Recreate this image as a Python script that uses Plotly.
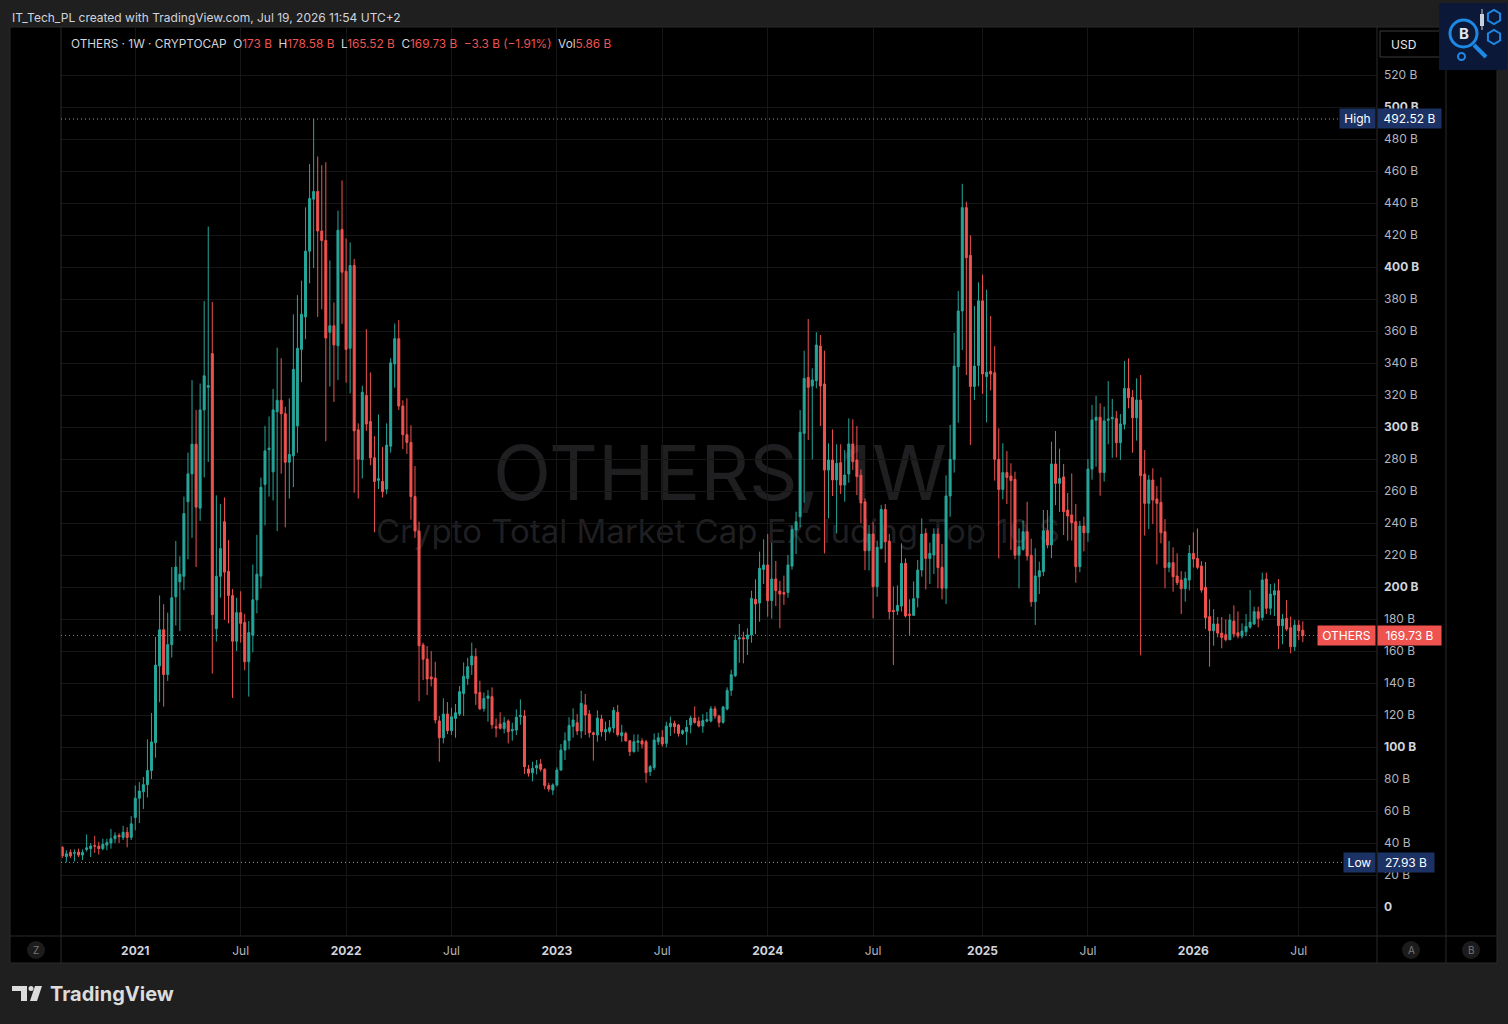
import pandas as pd
import plotly.graph_objects as go

# weekly OTHERS market cap, billions USD (one candle per week starting Monday)
first_week = "2020-08-31"

opens = [
    37.3, 31.5, 34.1, 33.6, 34.4, 32.5, 36.0, 36.5, 38.4, 38.1,
    36.5, 38.7, 40.0, 42.7, 44.8, 43.5, 46.7, 43.5, 56.0, 68.0,
    72.0, 76.5, 85.3, 102.7, 150.7, 173.3, 145.3, 164.0, 193.9, 203.2,
    206.7, 253.3, 270.7, 289.3, 249.3, 310.7, 324.8, 345.9, 173.9, 206.7,
    240.8, 209.9, 194.7, 166.1, 184.0, 177.9, 153.3, 169.9, 192.0, 206.8,
    264.1, 285.8, 272.0, 309.5, 316.7, 308.3, 278.0, 282.0, 300.7, 348.5,
    368.8, 409.9, 442.4, 447.2, 422.5, 416.6, 359.2, 363.3, 350.8, 423.5,
    397.4, 349.2, 401.0, 298.3, 279.6, 319.8, 303.5, 280.8, 266.7, 266.0,
    261.2, 288.0, 339.4, 355.2, 313.1, 295.2, 290.4, 256.5, 235.0, 163.8,
    155.0, 143.8, 143.1, 116.3, 105.8, 120.6, 110.2, 117.9, 120.6, 133.5,
    142.9, 151.3, 156.5, 134.1, 124.1, 130.4, 131.5, 112.7, 114.4, 111.5,
    116.3, 110.2, 110.6, 119.0, 119.4, 86.3, 83.9, 86.9, 89.4, 86.1,
    75.9, 73.1, 76.3, 85.6, 98.1, 104.0, 112.9, 115.2, 110.0, 126.3,
    120.6, 108.9, 107.5, 117.5, 109.4, 109.9, 111.9, 121.7, 107.1, 108.5,
    103.9, 97.1, 102.9, 103.8, 103.3, 84.6, 87.1, 103.3, 106.1, 102.3,
    112.7, 114.8, 113.8, 108.5, 109.6, 113.8, 118.1, 116.2, 113.1, 116.2,
    116.3, 123.9, 119.4, 115.4, 123.8, 135.4, 144.6, 167.5, 168.3, 167.5,
    170.0, 192.3, 190.0, 211.0, 213.8, 191.5, 205.0, 197.5, 196.5, 196.5,
    213.1, 235.6, 243.9, 296.0, 331.0, 325.6, 328.9, 350.6, 326.9, 273.1,
    279.4, 266.9, 277.7, 263.7, 270.6, 289.4, 279.4, 269.8, 253.3, 222.7,
    233.1, 200.2, 224.2, 248.5, 228.7, 185.4, 185.0, 188.1, 214.8, 183.1,
    182.3, 193.3, 210.6, 233.5, 217.9, 220.0, 233.1, 212.3, 199.2, 256.9,
    279.8, 337.7, 372.5, 437.1, 407.3, 325.4, 338.5, 378.9, 331.5, 334.8,
    333.9, 279.8, 261.0, 271.5, 269.4, 267.3, 219.9, 223.5, 234.6, 219.9,
    190.8, 206.5, 209.6, 235.2, 226.3, 276.9, 264.8, 268.8, 248.1, 245.0,
    240.8, 212.7, 238.1, 233.9, 273.7, 304.2, 306.1, 271.5, 304.2, 305.2,
    305.4, 290.2, 301.7, 324.1, 318.5, 305.8, 316.9, 270.6, 252.3, 266.9,
    255.0, 252.9, 234.6, 212.3, 215.2, 206.9, 204.4, 199.0, 204.4, 221.0,
    217.9, 213.1, 199.8, 181.5, 172.7, 176.9, 171.2, 170.2, 167.1, 178.7,
    171.4, 169.4, 172.1, 175.0, 176.9, 184.6, 181.0, 205.0, 186.7, 195.0,
    197.7, 175.8, 180.4, 174.6, 162.7, 176.2, 173.0,
]
highs = [
    38.1, 35.5, 36.0, 36.0, 36.5, 36.0, 45.3, 40.0, 44.5, 40.8,
    42.7, 42.7, 48.8, 46.7, 46.1, 50.7, 49.9, 56.8, 76.0, 78.1,
    81.3, 104.8, 121.3, 168.8, 194.7, 189.3, 184.0, 212.5, 228.8, 219.2,
    256.5, 284.0, 329.3, 310.7, 327.2, 378.7, 425.3, 378.1, 257.3, 252.0,
    256.0, 229.3, 198.7, 193.3, 197.3, 183.2, 178.7, 214.1, 232.6, 268.4,
    300.7, 306.6, 323.8, 349.6, 343.0, 312.6, 317.9, 370.4, 382.4, 391.5,
    437.3, 464.3, 492.52, 469.1, 463.6, 465.5, 404.1, 377.8, 435.2, 454.1,
    417.8, 415.4, 405.1, 302.3, 325.8, 361.1, 334.1, 294.2, 307.8, 287.5,
    302.3, 343.0, 364.7, 366.9, 316.7, 317.9, 301.1, 275.6, 240.9, 165.2,
    163.1, 160.0, 153.3, 119.4, 130.4, 128.1, 124.6, 126.9, 138.1, 152.9,
    155.8, 165.2, 161.7, 141.4, 134.1, 135.6, 137.3, 117.9, 121.7, 118.9,
    117.3, 115.2, 123.5, 129.8, 123.1, 88.8, 90.8, 91.9, 92.5, 86.7,
    77.7, 77.3, 87.3, 101.9, 109.2, 118.6, 124.2, 120.6, 135.2, 133.1,
    123.1, 109.6, 122.9, 120.2, 115.9, 116.9, 125.0, 126.3, 113.9, 109.6,
    104.4, 107.9, 107.9, 105.4, 104.4, 88.8, 108.5, 108.9, 110.6, 115.8,
    119.0, 116.5, 114.4, 111.0, 116.9, 119.6, 125.4, 118.9, 120.6, 121.9,
    125.6, 125.6, 120.2, 125.8, 137.3, 148.3, 170.2, 176.9, 172.1, 174.2,
    197.7, 204.8, 222.1, 229.8, 233.1, 227.7, 216.3, 203.9, 207.1, 220.0,
    238.7, 247.1, 310.6, 347.7, 367.5, 336.7, 359.2, 357.5, 347.7, 289.8,
    298.5, 289.2, 289.2, 285.6, 305.4, 304.8, 300.6, 273.5, 255.4, 238.7,
    240.8, 229.0, 251.2, 251.9, 233.1, 200.4, 201.0, 227.3, 217.9, 192.3,
    203.5, 216.9, 242.9, 236.6, 227.7, 236.7, 236.7, 226.9, 269.8, 301.3,
    358.8, 385.0, 452.0, 440.8, 419.8, 375.6, 390.4, 395.2, 385.8, 369.4,
    350.6, 299.2, 289.8, 285.0, 277.3, 272.1, 236.7, 241.5, 253.3, 230.2,
    224.2, 215.8, 248.1, 248.1, 290.8, 297.5, 286.5, 276.9, 258.8, 271.0,
    251.9, 241.3, 243.9, 280.0, 313.8, 319.4, 314.8, 312.7, 328.7, 317.6,
    310.0, 308.1, 341.3, 342.9, 323.1, 330.4, 332.5, 285.6, 270.0, 274.2,
    263.1, 268.5, 242.5, 228.8, 224.8, 221.0, 210.0, 209.6, 226.2, 234.2,
    236.6, 216.2, 215.6, 192.3, 186.2, 181.2, 181.2, 179.8, 183.1, 188.6,
    184.8, 177.3, 183.1, 198.1, 187.7, 187.7, 209.0, 209.0, 201.9, 202.3,
    205.0, 183.1, 191.9, 181.5, 179.4, 179.4, 178.58,
]
lows = [
    30.7, 27.93, 30.7, 28.5, 31.2, 29.3, 34.7, 31.2, 33.9, 32.8,
    35.5, 35.5, 36.5, 40.0, 40.0, 41.9, 37.3, 41.9, 48.0, 52.5,
    61.3, 68.5, 80.0, 93.3, 128.0, 125.3, 141.3, 156.0, 176.0, 172.5,
    198.1, 217.3, 230.7, 212.5, 241.3, 268.5, 278.1, 145.9, 165.9, 193.3,
    179.5, 177.3, 130.7, 160.0, 165.3, 148.0, 131.5, 159.2, 183.6, 199.1,
    238.5, 256.5, 254.1, 235.0, 270.8, 237.3, 255.3, 262.4, 283.9, 328.1,
    354.9, 389.8, 399.3, 368.8, 373.6, 291.1, 325.3, 315.7, 329.3, 364.5,
    327.7, 321.0, 258.9, 255.3, 267.9, 297.6, 276.1, 234.2, 261.2, 256.0,
    258.1, 284.0, 324.6, 310.7, 286.3, 283.2, 242.1, 230.7, 128.6, 141.8,
    132.5, 137.9, 114.8, 90.8, 102.3, 108.1, 107.5, 105.8, 119.4, 119.4,
    138.8, 145.0, 126.3, 123.1, 122.1, 115.9, 111.4, 106.1, 111.0, 108.5,
    102.3, 104.0, 107.5, 113.9, 83.1, 81.5, 78.5, 82.9, 84.6, 73.6,
    72.1, 70.0, 75.2, 85.2, 91.9, 98.5, 105.9, 107.5, 105.4, 107.5,
    105.9, 91.5, 103.3, 106.5, 104.0, 108.5, 108.9, 106.5, 103.3, 103.3,
    94.4, 96.5, 97.1, 99.1, 77.7, 81.9, 85.6, 101.3, 100.2, 99.8,
    106.9, 108.5, 106.5, 107.5, 101.3, 108.5, 114.6, 112.3, 108.9, 115.4,
    115.4, 117.7, 112.3, 114.6, 122.9, 131.9, 143.7, 152.7, 152.3, 157.5,
    165.2, 170.6, 178.3, 201.9, 181.5, 180.2, 188.1, 174.2, 188.8, 193.3,
    210.9, 220.6, 237.3, 252.7, 291.9, 279.8, 324.2, 300.6, 221.0, 242.9,
    256.9, 233.5, 258.1, 253.3, 265.2, 273.1, 257.5, 239.8, 210.6, 210.4,
    180.4, 193.9, 223.5, 215.2, 179.8, 151.3, 182.5, 184.6, 181.0, 170.0,
    181.9, 187.3, 206.5, 198.5, 201.9, 208.1, 199.2, 192.3, 189.4, 243.9,
    271.5, 302.7, 348.1, 332.5, 288.8, 316.9, 325.4, 320.8, 302.9, 322.9,
    266.5, 217.9, 254.8, 251.9, 223.1, 217.3, 199.2, 222.7, 216.5, 187.7,
    176.3, 195.6, 206.9, 224.2, 218.1, 251.2, 246.9, 232.5, 229.0, 229.0,
    202.7, 209.2, 222.3, 228.3, 267.1, 275.2, 257.1, 265.9, 289.2, 280.8,
    281.0, 279.4, 298.5, 311.7, 283.9, 291.5, 157.3, 232.1, 236.2, 239.4,
    214.2, 227.3, 199.2, 209.2, 197.1, 201.2, 183.1, 190.8, 197.9, 212.1,
    211.1, 196.5, 173.8, 150.2, 163.3, 168.6, 161.7, 166.0, 166.8, 168.5,
    167.9, 167.9, 169.4, 173.9, 176.3, 174.8, 178.9, 183.1, 182.5, 181.9,
    161.3, 164.2, 172.5, 158.5, 160.0, 166.9, 165.52,
]
closes = [
    32.0, 33.3, 32.0, 33.9, 32.5, 34.1, 37.0, 38.1, 38.1, 36.5,
    39.2, 40.3, 42.7, 44.5, 44.0, 46.7, 43.5, 52.0, 68.0, 72.5,
    76.5, 85.3, 103.2, 151.2, 173.3, 145.3, 164.0, 193.3, 212.5, 208.0,
    245.9, 270.7, 289.3, 249.9, 310.7, 332.0, 325.9, 182.7, 206.7, 224.0,
    209.3, 194.7, 166.1, 184.0, 177.3, 153.3, 171.5, 192.0, 208.0, 262.4,
    285.1, 286.8, 310.7, 316.7, 308.3, 278.0, 282.8, 336.0, 349.2, 370.4,
    409.9, 442.8, 447.2, 422.5, 416.6, 355.6, 363.3, 351.3, 423.0, 396.7,
    348.5, 401.0, 297.6, 279.9, 321.7, 301.9, 280.8, 266.0, 267.7, 259.6,
    288.7, 340.1, 355.2, 313.1, 295.2, 290.4, 256.5, 235.0, 163.3, 154.9,
    142.5, 142.5, 116.9, 105.8, 120.6, 110.2, 118.9, 121.4, 134.6, 144.2,
    150.2, 156.9, 133.5, 123.9, 130.4, 131.9, 113.9, 111.9, 111.7, 115.2,
    109.6, 111.0, 118.6, 119.8, 87.7, 83.6, 86.7, 88.5, 86.1, 75.9,
    73.8, 76.3, 85.6, 98.1, 104.0, 113.4, 116.9, 110.0, 127.3, 120.0,
    108.9, 107.9, 118.1, 109.6, 111.1, 112.1, 122.9, 107.7, 109.0, 103.9,
    97.1, 103.3, 103.8, 101.9, 84.0, 87.7, 104.4, 105.8, 101.9, 113.1,
    114.8, 112.7, 108.5, 110.2, 112.3, 118.1, 115.4, 113.1, 116.5, 117.1,
    123.9, 119.4, 115.4, 125.0, 135.4, 145.2, 166.7, 168.3, 167.5, 170.0,
    192.9, 189.4, 211.7, 213.8, 191.5, 205.0, 197.7, 195.6, 195.6, 213.8,
    236.0, 240.8, 296.7, 330.4, 324.8, 329.4, 351.2, 325.6, 273.1, 279.4,
    266.9, 277.3, 263.7, 270.0, 289.4, 278.3, 269.0, 252.5, 222.7, 233.1,
    200.2, 224.8, 248.5, 228.3, 184.6, 184.6, 188.5, 214.8, 181.9, 182.3,
    192.7, 210.6, 233.1, 217.9, 221.0, 233.1, 212.1, 199.2, 256.9, 279.8,
    338.1, 372.5, 437.1, 405.8, 325.4, 338.1, 378.9, 333.1, 334.2, 333.1,
    279.8, 261.0, 271.5, 268.5, 266.5, 219.9, 225.2, 234.6, 219.4, 190.8,
    206.9, 210.2, 235.2, 226.3, 276.9, 264.8, 267.9, 247.1, 244.4, 240.2,
    212.7, 238.1, 233.9, 273.7, 304.4, 306.1, 271.5, 303.8, 305.0, 306.0,
    290.2, 301.9, 324.1, 318.3, 305.8, 316.9, 269.6, 252.3, 266.9, 254.4,
    252.3, 233.9, 212.1, 215.2, 206.4, 202.7, 199.0, 205.4, 221.0, 217.5,
    212.3, 198.1, 180.8, 172.7, 176.9, 171.2, 168.5, 167.1, 179.4, 170.6,
    169.4, 172.5, 175.4, 178.1, 184.6, 180.4, 204.4, 186.7, 195.6, 197.7,
    175.8, 180.0, 173.7, 162.7, 176.2, 172.7, 169.73,
]

time_ticks = ["2021-01-04", "2021-07-05", "2022-01-03", "2022-07-04",
              "2023-01-02", "2023-07-03", "2024-01-01", "2024-07-01",
              "2025-01-06", "2025-07-07", "2026-01-05", "2026-07-06"]
time_labels = ["2021", "Jul", "2022", "Jul", "2023", "Jul",
               "2024", "Jul", "2025", "Jul", "2026", "Jul"]
price_ticks = [0, 20, 40, 60, 80, 100, 120, 140, 160, 180, 200, 220, 240,
               260, 280, 300, 320, 340, 360, 380, 400, 420, 440, 460, 480,
               500, 520]

all_time_high = 492.52
all_time_low = 27.93
last_price = 169.73

# pixel geometry of the snapshot
W, H = 1508, 1024
PL, PR, PT, PB = 61, 1377, 27, 936

GREEN = "#26a69a"
RED = "#ef5350"
TXT = "#b2b5be"
TXT_HI = "#d1d4dc"
FRAME = "#2a2a2a"
NAVY = "#1c3264"
FONT = "Inter, Roboto, sans-serif"


def px(x):
    return (x - PL) / (PR - PL)


def py(y):
    return (PB - y) / (PB - PT)


def hexagon(cx, cy, r):
    pts = [(cx + r * dx, cy + r * dy) for dx, dy in
           [(0.87, -0.5), (0.87, 0.5), (0, 1), (-0.87, 0.5), (-0.87, -0.5), (0, -1)]]
    return "M " + " L ".join(f"{px(x)},{py(y)}" for x, y in pts) + " Z"


weeks = pd.date_range(first_week, periods=len(closes), freq="7D")
week = pd.Timedelta(days=7)
x_range = [weeks[0] - 0.32 * week, weeks[0] + 324.3 * week]

fig = go.Figure()
fig.add_trace(go.Candlestick(
    x=weeks, open=opens, high=highs, low=lows, close=closes,
    increasing=dict(line=dict(color=GREEN, width=1), fillcolor=GREEN),
    decreasing=dict(line=dict(color=RED, width=1), fillcolor=RED),
    whiskerwidth=0, hoverinfo="skip", showlegend=False,
))

price_text = []
for v in price_ticks:
    label = f"{v} B" if v else "0"
    if v % 100 == 0:
        label = f"<b><span style='color:{TXT_HI}'>{label}</span></b>"
    price_text.append(label)

time_text = [f"<b><span style='color:{TXT_HI}'>{t}</span></b>" if t != "Jul" else t
             for t in time_labels]

shapes = [
    # panel
    dict(type="rect", xref="paper", yref="paper", x0=px(10), x1=px(1497),
         y0=py(963), y1=py(27), fillcolor="#000000", line=dict(color=FRAME, width=1),
         layer="below"),
    # watermark
    dict(type="rect", xref="paper", yref="paper", x0=px(400), x1=px(1040),
         y0=py(510), y1=py(430), line=dict(width=0), fillcolor="rgba(0,0,0,0)",
         layer="below",
         label=dict(text="OTHERS, 1W", textposition="middle center",
                    font=dict(family=FONT, size=76, color="#1f1f22"))),
    dict(type="rect", xref="paper", yref="paper", x0=px(300), x1=px(1136),
         y0=py(550), y1=py(510), line=dict(width=0), fillcolor="rgba(0,0,0,0)",
         layer="below",
         label=dict(text="Crypto Total Market Cap Excluding Top 10 $",
                    textposition="middle center",
                    font=dict(family=FONT, size=33, color="#1f1f22"))),
]
for x in (61, 1377, 1446):
    shapes.append(dict(type="line", xref="paper", yref="paper", x0=px(x), x1=px(x),
                       y0=py(963), y1=py(27), line=dict(color=FRAME, width=1)))
shapes.append(dict(type="line", xref="paper", yref="paper", x0=px(10), x1=px(1497),
                   y0=py(936), y1=py(936), line=dict(color=FRAME, width=1)))

# high / low / last price lines
for level, end, col in ((all_time_high, 1341, "#9a9a9a"), (all_time_low, 1345, "#9a9a9a"),
                        (last_price, 1319, RED)):
    shapes.append(dict(type="line", xref="paper", yref="y", x0=0, x1=px(end),
                       y0=level, y1=level, line=dict(color=col, width=1, dash="1px,3px")))

# USD button
shapes.append(dict(type="rect", xref="paper", yref="paper", x0=px(1380), x1=px(1442),
                   y0=py(57), y1=py(31), fillcolor="#000000",
                   line=dict(color="#3a3a3a", width=1)))

# bottom buttons
for cx in (36, 1411, 1471):
    shapes.append(dict(type="circle", xref="paper", yref="paper", x0=px(cx - 9),
                       x1=px(cx + 9), y0=py(959), y1=py(941), fillcolor="#1c1c1c",
                       line=dict(width=0)))

# logo badge, top right
LOGO_BLUE = "#1e88e5"
shapes += [
    dict(type="rect", xref="paper", yref="paper", x0=px(1439), x1=px(1507),
         y0=py(70), y1=py(3), fillcolor="#0b1838", line=dict(width=0)),
    dict(type="circle", xref="paper", yref="paper", x0=px(1450), x1=px(1477),
         y0=py(47), y1=py(20), line=dict(color=LOGO_BLUE, width=3)),
    dict(type="line", xref="paper", yref="paper", x0=px(1474), x1=px(1486),
         y0=py(45), y1=py(57), line=dict(color=LOGO_BLUE, width=4)),
    dict(type="circle", xref="paper", yref="paper", x0=px(1458), x1=px(1465),
         y0=py(60), y1=py(53), line=dict(color=LOGO_BLUE, width=2)),
    dict(type="path", xref="paper", yref="paper", path=hexagon(1494, 17, 7),
         line=dict(color=LOGO_BLUE, width=2)),
    dict(type="path", xref="paper", yref="paper", path=hexagon(1494, 37, 7),
         line=dict(color=LOGO_BLUE, width=2)),
    dict(type="line", xref="paper", yref="paper", x0=px(1482), x1=px(1482),
         y0=py(30), y1=py(9), line=dict(color="#c9d2dc", width=1)),
    dict(type="rect", xref="paper", yref="paper", x0=px(1480), x1=px(1484),
         y0=py(26), y1=py(14), fillcolor="#c9d2dc", line=dict(width=0)),
]

# TradingView footer mark
TV = "#dcdcdc"
shapes += [
    dict(type="rect", xref="paper", yref="paper", x0=px(12), x1=px(27),
         y0=py(991), y1=py(986), fillcolor=TV, line=dict(width=0)),
    dict(type="rect", xref="paper", yref="paper", x0=px(21), x1=px(27),
         y0=py(1001), y1=py(986), fillcolor=TV, line=dict(width=0)),
    dict(type="circle", xref="paper", yref="paper", x0=px(28.5), x1=px(33.5),
         y0=py(991), y1=py(986), fillcolor=TV, line=dict(width=0)),
    dict(type="path", xref="paper", yref="paper",
         path=(f"M {px(35)},{py(986)} L {px(42)},{py(986)} L {px(37)},{py(1001)} "
               f"L {px(30)},{py(1001)} Z"),
         fillcolor=TV, line=dict(width=0)),
]

red_span = f"<span style='color:{RED}'>"
legend_text = (
    "OTHERS · 1W · CRYPTOCAP\u00a0\u00a0"
    f"O{red_span}173 B</span>\u00a0\u00a0"
    f"H{red_span}178.58 B</span>\u00a0\u00a0"
    f"L{red_span}165.52 B</span>\u00a0\u00a0"
    f"C{red_span}169.73 B\u00a0\u00a0−3.3 B (−1.91%)</span>\u00a0\u00a0"
    f"Vol{red_span}5.86 B</span>"
)

annotations = [
    dict(xref="paper", yref="paper", x=px(10), y=py(17), xanchor="left",
         yanchor="middle", showarrow=False, font=dict(family=FONT, size=12, color=TXT_HI),
         text="IT_Tech_PL created with TradingView.com, Jul 19, 2026 11:54 UTC+2"),
    dict(xref="paper", yref="paper", x=px(69), y=py(44), xanchor="left",
         yanchor="middle", showarrow=False,
         font=dict(family=FONT, size=11.8, color=TXT_HI), text=legend_text),
    dict(xref="paper", yref="paper", x=px(1389), y=py(44), xanchor="left",
         yanchor="middle", showarrow=False, font=dict(family=FONT, size=12, color="#e8e8e8"),
         text="USD"),
    dict(xref="paper", yref="paper", x=px(1464), y=py(34), xanchor="center",
         yanchor="middle", showarrow=False,
         font=dict(family=FONT, size=15, color="#e0e6ee"), text="<b>B</b>"),
    dict(xref="paper", yref="paper", x=px(48), y=py(994), xanchor="left",
         yanchor="middle", showarrow=False, font=dict(family=FONT, size=20, color=TV),
         text="<b>TradingView</b>"),
]
for cx, letter in ((36, "Z"), (1411, "A"), (1471, "B")):
    annotations.append(dict(xref="paper", yref="paper", x=px(cx), y=py(950),
                            xanchor="center", yanchor="middle", showarrow=False,
                            font=dict(family=FONT, size=10, color="#777777"), text=letter))

# price-scale badges: (level, name, name box width, value text, colour)
for level, name, name_w, value, col in ((all_time_high, "High", 31, "492.52 B", NAVY),
                                        (all_time_low, "Low", 27, "27.93 B", NAVY),
                                        (last_price, "OTHERS", 53, "169.73 B", RED)):
    annotations.append(dict(xref="paper", yref="y", x=1.0, y=level, xanchor="left",
                            yanchor="middle", showarrow=False, align="center",
                            width=59 if col == RED or name == "High" else 52,
                            text=value, bgcolor=col, borderpad=2, xshift=0,
                            font=dict(family=FONT, size=12, color="#ffffff")))
    annotations.append(dict(xref="paper", yref="y", x=1.0, y=level, xanchor="right",
                            yanchor="middle", showarrow=False, align="center",
                            width=name_w, text=name, bgcolor=col, borderpad=2, xshift=-1,
                            font=dict(family=FONT, size=12, color="#ffffff")))

fig.update_layout(
    width=W, height=H,
    margin=dict(l=PL, r=W - PR, t=PT, b=H - PB, pad=0),
    paper_bgcolor="#1f1f1f",
    plot_bgcolor="rgba(0,0,0,0)",
    font=dict(family=FONT, size=12, color=TXT),
    showlegend=False,
    shapes=shapes,
    annotations=annotations,
    xaxis=dict(
        type="date", range=x_range, rangeslider=dict(visible=False),
        tickvals=time_ticks, ticktext=time_text, ticks="", ticklabelstandoff=6,
        showgrid=True, gridcolor="#161616", gridwidth=1, zeroline=False, showline=False,
        tickfont=dict(family=FONT, size=12, color=TXT), fixedrange=True,
    ),
    yaxis=dict(
        side="right", range=[-18.1, 550], tickvals=price_ticks, ticktext=price_text,
        ticks="", ticklabelstandoff=6, showgrid=True, gridcolor="#161616", gridwidth=1,
        zeroline=False, showline=False, tickfont=dict(family=FONT, size=12, color=TXT),
        fixedrange=True,
    ),
)

fig.write_html("out.html", post_script="document.body.style.margin='0';",
               config={"displayModeBar": False})
